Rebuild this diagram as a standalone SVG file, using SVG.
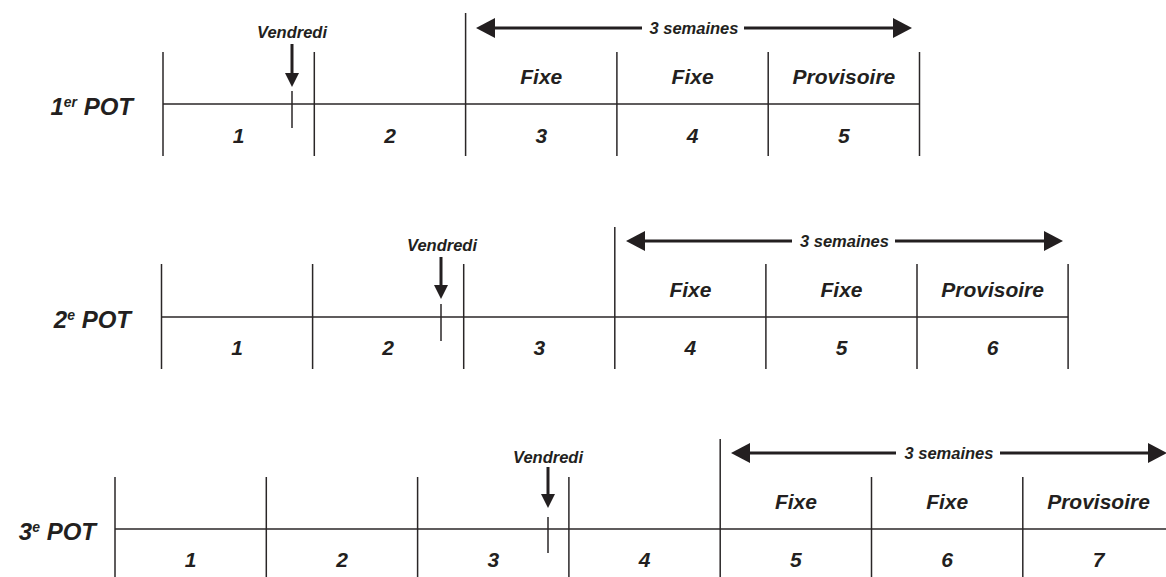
<svg xmlns="http://www.w3.org/2000/svg" width="1166" height="577" viewBox="0 0 1166 577">
<style>
.bg{fill:#ffffff}
.ln{stroke:#2a2627;stroke-width:1.5;fill:none}
.tk{stroke:#2a2627;stroke-width:1.5;fill:none}
.ar{stroke:#231f20;stroke-width:3;fill:none}
.hd{fill:#231f20}
text{font-family:"Liberation Sans",Arial,sans-serif;font-weight:bold;font-style:italic;fill:#231f20}
.pot{font-size:24px;text-anchor:end}
.sup{font-size:14px}
.lab{font-size:21px;text-anchor:middle}
.num{font-size:21px;text-anchor:middle}
.ven{font-size:16.5px;text-anchor:middle}
.sem{font-size:16.5px;text-anchor:middle}
</style>
<rect class="bg" x="0" y="0" width="1166" height="577"/>

<!-- Row 1 -->
<g id="pot1">
  <text class="pot" x="133" y="115">1<tspan class="sup" dy="-8">er</tspan><tspan dy="8"> POT</tspan></text>
  <line class="ln" x1="163" y1="104" x2="919.5" y2="104"/>
  <line class="ln" x1="163" y1="52" x2="163" y2="156"/>
  <line class="ln" x1="314.3" y1="52" x2="314.3" y2="156"/>
  <line class="ln" x1="465.6" y1="13" x2="465.6" y2="156"/>
  <line class="ln" x1="616.9" y1="52" x2="616.9" y2="156"/>
  <line class="ln" x1="768.2" y1="52" x2="768.2" y2="156"/>
  <line class="ln" x1="919.5" y1="52" x2="919.5" y2="156"/>
  <text class="lab" x="541.3" y="84">Fixe</text>
  <text class="lab" x="692.6" y="84">Fixe</text>
  <text class="lab" x="843.9" y="84">Provisoire</text>
  <text class="num" x="238.7" y="143">1</text>
  <text class="num" x="390" y="143">2</text>
  <text class="num" x="541.3" y="143">3</text>
  <text class="num" x="692.6" y="143">4</text>
  <text class="num" x="843.9" y="143">5</text>
  <text class="ven" x="292" y="38">Vendredi</text>
  <line class="tk" x1="292" y1="91" x2="292" y2="128"/>
  <text class="sem" x="694" y="34">3 semaines</text>
</g>

<!-- Row 2 -->
<g id="pot2">
  <text class="pot" x="131" y="328">2<tspan class="sup" dy="-8">e</tspan><tspan dy="8"> POT</tspan></text>
  <line class="ln" x1="161.5" y1="317" x2="1068.1" y2="317"/>
  <line class="ln" x1="161.5" y1="264" x2="161.5" y2="369"/>
  <line class="ln" x1="312.6" y1="264" x2="312.6" y2="369"/>
  <line class="ln" x1="463.7" y1="264" x2="463.7" y2="369"/>
  <line class="ln" x1="614.8" y1="227" x2="614.8" y2="369"/>
  <line class="ln" x1="765.9" y1="264" x2="765.9" y2="369"/>
  <line class="ln" x1="917" y1="264" x2="917" y2="369"/>
  <line class="ln" x1="1068.1" y1="264" x2="1068.1" y2="369"/>
  <text class="lab" x="690.4" y="297">Fixe</text>
  <text class="lab" x="841.5" y="297">Fixe</text>
  <text class="lab" x="992.6" y="297">Provisoire</text>
  <text class="num" x="237" y="355">1</text>
  <text class="num" x="388.2" y="355">2</text>
  <text class="num" x="539.3" y="355">3</text>
  <text class="num" x="690.4" y="355">4</text>
  <text class="num" x="841.5" y="355">5</text>
  <text class="num" x="992.6" y="355">6</text>
  <text class="ven" x="442" y="251">Vendredi</text>
  <line class="tk" x1="441" y1="304" x2="441" y2="341"/>
  <text class="sem" x="844.5" y="247">3 semaines</text>
</g>

<!-- Row 3 -->
<g id="pot3">
  <text class="pot" x="96" y="540">3<tspan class="sup" dy="-8">e</tspan><tspan dy="8"> POT</tspan></text>
  <line class="ln" x1="115" y1="529" x2="1166" y2="529"/>
  <line class="ln" x1="115" y1="477" x2="115" y2="581"/>
  <line class="ln" x1="266.3" y1="477" x2="266.3" y2="581"/>
  <line class="ln" x1="417.6" y1="477" x2="417.6" y2="581"/>
  <line class="ln" x1="568.9" y1="477" x2="568.9" y2="581"/>
  <line class="ln" x1="720.2" y1="439" x2="720.2" y2="581"/>
  <line class="ln" x1="871.5" y1="477" x2="871.5" y2="581"/>
  <line class="ln" x1="1022.8" y1="477" x2="1022.8" y2="581"/>
  <text class="lab" x="795.9" y="509">Fixe</text>
  <text class="lab" x="947.2" y="509">Fixe</text>
  <text class="lab" x="1098.5" y="509">Provisoire</text>
  <text class="num" x="190.7" y="567">1</text>
  <text class="num" x="342" y="567">2</text>
  <text class="num" x="493.3" y="567">3</text>
  <text class="num" x="644.6" y="567">4</text>
  <text class="num" x="795.9" y="567">5</text>
  <text class="num" x="947.2" y="567">6</text>
  <text class="num" x="1098.5" y="567">7</text>
  <text class="ven" x="548" y="463">Vendredi</text>
  <line class="tk" x1="548" y1="517" x2="548" y2="553"/>
  <text class="sem" x="949" y="459">3 semaines</text>
</g>

<g id="connectors">
  <!-- Vendredi arrows -->
  <line class="ar" x1="292" y1="44" x2="292" y2="74"/>
  <polygon class="hd" points="285,73 299,73 292,87"/>
  <line class="ar" x1="441" y1="257" x2="441" y2="286"/>
  <polygon class="hd" points="434,285 448,285 441,299"/>
  <line class="ar" x1="548" y1="467" x2="548" y2="495"/>
  <polygon class="hd" points="541,494 555,494 548,508"/>
  <!-- 3 semaines arrows -->
  <line class="ar" x1="493" y1="28" x2="642" y2="28"/>
  <line class="ar" x1="744" y1="28" x2="894" y2="28"/>
  <polygon class="hd" points="476,28 495,18 495,38"/>
  <polygon class="hd" points="912,28 893,18 893,38"/>
  <line class="ar" x1="643" y1="241" x2="792" y2="241"/>
  <line class="ar" x1="895" y1="241" x2="1045" y2="241"/>
  <polygon class="hd" points="626,241 645,231 645,251"/>
  <polygon class="hd" points="1063,241 1044,231 1044,251"/>
  <line class="ar" x1="748" y1="453" x2="896" y2="453"/>
  <line class="ar" x1="1000" y1="453" x2="1149" y2="453"/>
  <polygon class="hd" points="731,453 750,443 750,463"/>
  <polygon class="hd" points="1167,453 1148,443 1148,463"/>
</g>
</svg>
